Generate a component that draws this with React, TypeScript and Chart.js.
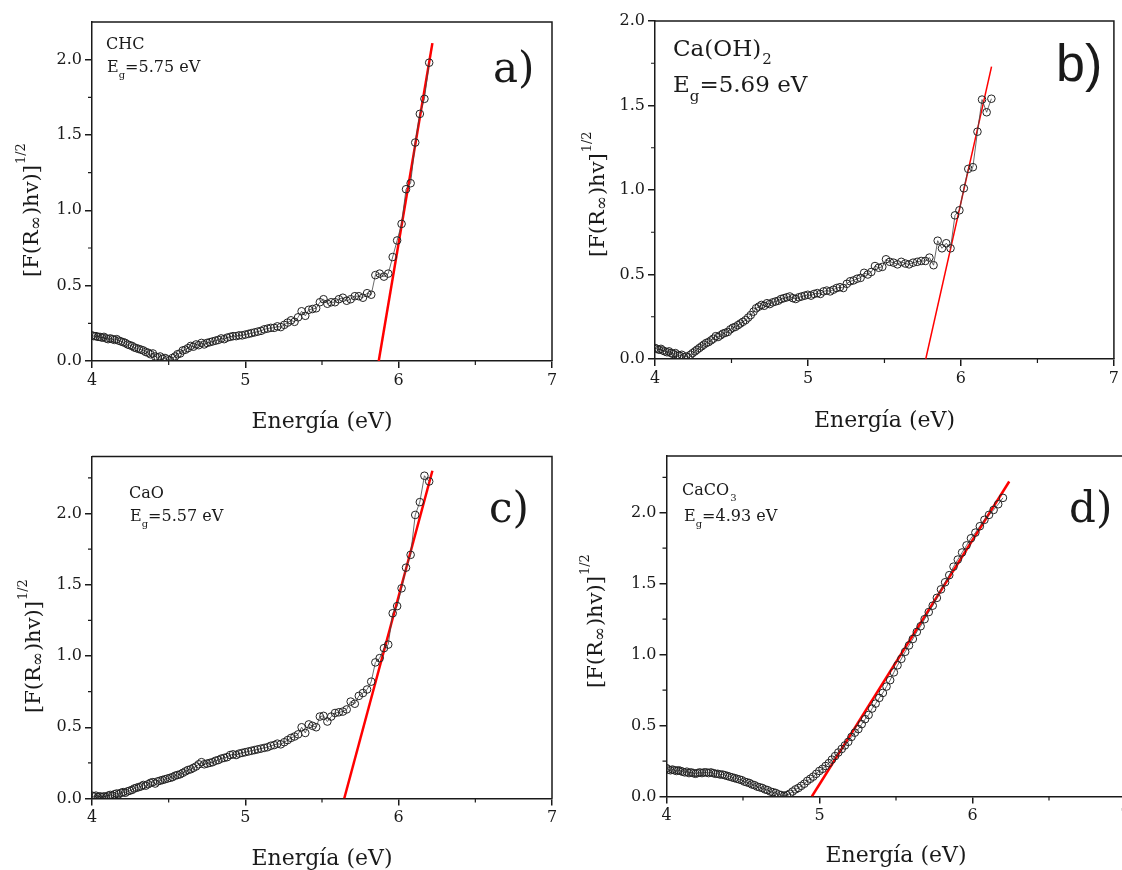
import React, { useEffect, useRef } from "react";
import { Chart, registerables } from "chart.js";

Chart.register(...registerables);

// ---------------- DATA ----------------
const energy = [
  4.000, 4.012, 4.026, 4.039, 4.052, 4.065, 4.078, 4.092, 4.105, 4.119,
  4.133, 4.147, 4.161, 4.175, 4.189, 4.203, 4.217, 4.232, 4.246, 4.261,
  4.275, 4.290, 4.305, 4.320, 4.335, 4.350, 4.366, 4.381, 4.397, 4.412,
  4.428, 4.444, 4.460, 4.476, 4.492, 4.509, 4.525, 4.542, 4.558, 4.575,
  4.592, 4.609, 4.626, 4.644, 4.661, 4.679, 4.696, 4.714, 4.732, 4.750,
  4.769, 4.787, 4.806, 4.824, 4.843, 4.862, 4.881, 4.901, 4.920, 4.940,
  4.959, 4.979, 4.999, 5.020, 5.040, 5.061, 5.081, 5.102, 5.123, 5.145,
  5.166, 5.188, 5.209, 5.231, 5.254, 5.276, 5.298, 5.321, 5.344, 5.367,
  5.391, 5.414, 5.438, 5.462, 5.486, 5.510, 5.535, 5.560, 5.585, 5.610,
  5.636, 5.661, 5.687, 5.714, 5.740, 5.767, 5.794, 5.821, 5.848, 5.876,
  5.904, 5.932, 5.961, 5.990, 6.019, 6.048, 6.078, 6.108, 6.138, 6.168, 6.199,
];

const valuesCHC = [
  0.17, 0.165, 0.165, 0.16, 0.16, 0.155, 0.16, 0.15, 0.145, 0.15,
  0.145, 0.14, 0.145, 0.135, 0.13, 0.125, 0.12, 0.11, 0.105, 0.10,
  0.09, 0.085, 0.08, 0.075, 0.07, 0.06, 0.055, 0.045, 0.05, 0.03,
  0.025, 0.03, 0.015, 0.02, 0.01, 0.005, 0.02, 0.03, 0.045, 0.05,
  0.07, 0.075, 0.085, 0.10, 0.095, 0.11, 0.105, 0.12, 0.11, 0.12,
  0.125, 0.13, 0.135, 0.14, 0.15, 0.145, 0.155, 0.16, 0.165, 0.165,
  0.17, 0.17, 0.175, 0.18, 0.185, 0.19, 0.195, 0.20, 0.21, 0.215,
  0.22, 0.22, 0.23, 0.225, 0.24, 0.255, 0.27, 0.26, 0.29, 0.33,
  0.30, 0.34, 0.345, 0.35, 0.39, 0.41, 0.38, 0.39, 0.39, 0.41,
  0.42, 0.40, 0.41, 0.43, 0.43, 0.42, 0.45, 0.44, 0.57, 0.58,
  0.56, 0.58, 0.69, 0.80, 0.91, 1.14, 1.18, 1.45, 1.64, 1.74, 1.98,
];

const valuesCaOH2 = [
  0.065, 0.06, 0.055, 0.06, 0.05, 0.045, 0.04, 0.045, 0.035, 0.03,
  0.035, 0.025, 0.02, 0.025, 0.01, 0.015, 0.01, 0.025, 0.035, 0.045,
  0.055, 0.065, 0.075, 0.085, 0.095, 0.10, 0.11, 0.12, 0.135, 0.13,
  0.14, 0.15, 0.155, 0.16, 0.175, 0.185, 0.19, 0.20, 0.21, 0.22,
  0.23, 0.245, 0.26, 0.28, 0.30, 0.31, 0.32, 0.315, 0.33, 0.325,
  0.335, 0.34, 0.345, 0.355, 0.36, 0.365, 0.37, 0.36, 0.355, 0.365,
  0.37, 0.375, 0.38, 0.375, 0.385, 0.39, 0.385, 0.40, 0.405, 0.40,
  0.41, 0.42, 0.425, 0.42, 0.445, 0.46, 0.465, 0.475, 0.48, 0.51,
  0.50, 0.515, 0.55, 0.54, 0.545, 0.59, 0.575, 0.57, 0.56, 0.575,
  0.565, 0.56, 0.57, 0.575, 0.58, 0.58, 0.60, 0.555, 0.70, 0.655,
  0.685, 0.655, 0.85, 0.88, 1.01, 1.125, 1.135, 1.345, 1.535, 1.46, 1.54,
];

const valuesCaO = [
  0.02, 0.015, 0.02, 0.01, 0.015, 0.01, 0.015, 0.01, 0.02, 0.025,
  0.02, 0.03, 0.035, 0.03, 0.04, 0.045, 0.04, 0.05, 0.055, 0.06,
  0.07, 0.075, 0.08, 0.085, 0.095, 0.09, 0.10, 0.11, 0.115, 0.105,
  0.12, 0.125, 0.13, 0.135, 0.14, 0.145, 0.15, 0.16, 0.165, 0.17,
  0.18, 0.19, 0.20, 0.205, 0.215, 0.225, 0.24, 0.255, 0.24, 0.245,
  0.25, 0.255, 0.265, 0.27, 0.28, 0.285, 0.29, 0.305, 0.31, 0.305,
  0.315, 0.32, 0.325, 0.33, 0.335, 0.34, 0.345, 0.35, 0.355, 0.36,
  0.37, 0.375, 0.385, 0.38, 0.395, 0.41, 0.425, 0.435, 0.45, 0.50,
  0.46, 0.52, 0.51, 0.50, 0.575, 0.58, 0.54, 0.575, 0.60, 0.605,
  0.61, 0.625, 0.68, 0.665, 0.72, 0.74, 0.765, 0.82, 0.955, 0.985,
  1.055, 1.08, 1.30, 1.35, 1.475, 1.62, 1.71, 1.99, 2.08, 2.265, 2.225,
];

const valuesCaCO3 = [
  0.20, 0.19, 0.185, 0.19, 0.185, 0.18, 0.185, 0.18, 0.175, 0.17,
  0.175, 0.165, 0.17, 0.165, 0.16, 0.165, 0.17, 0.165, 0.17, 0.17,
  0.165, 0.17, 0.165, 0.16, 0.16, 0.155, 0.155, 0.15, 0.145, 0.14,
  0.135, 0.13, 0.125, 0.12, 0.115, 0.105, 0.10, 0.095, 0.085, 0.08,
  0.07, 0.065, 0.06, 0.05, 0.045, 0.035, 0.03, 0.025, 0.015, 0.01,
  0.005, 0.01, 0.02, 0.035, 0.05, 0.06, 0.075, 0.09, 0.11, 0.125,
  0.14, 0.16, 0.18, 0.195, 0.215, 0.235, 0.26, 0.285, 0.31, 0.335,
  0.36, 0.385, 0.42, 0.45, 0.475, 0.51, 0.545, 0.575, 0.62, 0.655,
  0.695, 0.73, 0.775, 0.82, 0.875, 0.925, 0.97, 1.02, 1.065, 1.11,
  1.16, 1.20, 1.25, 1.30, 1.345, 1.40, 1.46, 1.51, 1.56, 1.62,
  1.67, 1.72, 1.77, 1.82, 1.86, 1.905, 1.95, 1.985, 2.02, 2.06, 2.105,
];

// linear fits (end points)
const fitCHC_x = [5.87, 6.22];
const fitCHC_y = [0, 2.11];
const fitCaOH2_x = [5.77, 6.2];
const fitCaOH2_y = [0, 1.73];
const fitCaO_x = [5.645, 6.22];
const fitCaO_y = [0, 2.3];
const fitCaCO3_x = [4.95, 6.24];
const fitCaCO3_y = [0, 2.22];

// ticks
const xTicks = [4, 5, 6, 7];
const xTickLabels = ["4", "5", "6", "7"];
const xMinorTicks = [4.5, 5.5, 6.5];
const yTicks = [0, 0.5, 1.0, 1.5, 2.0];
const yTickLabels = ["0.0", "0.5", "1.0", "1.5", "2.0"];
const yMinorTicks = [0.25, 0.75, 1.25, 1.75, 2.25];

const gapLabels = ["5.75", "5.69", "5.57", "4.93"];

// ---------------- STYLE / LAYOUT ----------------
const SERIF = "'DejaVu Serif', serif";
const SANS = "'Liberation Sans', Arial, sans-serif";
const INK = "#1a1a1a";

type PanelSpec = {
  key: string;
  box: { left: number; top: number; w: number; h: number };
  area: { l: number; t: number; r: number; b: number };
  xMax: number;
  yMax: number;
  values: number[];
  fitX: number[];
  fitY: number[];
  fitWidth: number;
  yTitleClose: string;
  yTitle: { baseX: number; startY: number };
  xTitleBase: number;
  label: { text: string; font: string; x: number; y: number };
  name: { parts: string[]; x: number; y: number; size: number };
  gap: { text: string; x: number; y: number; size: number };
};

const panels: PanelSpec[] = [
  {
    key: "a",
    box: { left: 0, top: 0, w: 561, h: 440 },
    area: { l: 92, t: 22, r: 552, b: 361 },
    xMax: 7,
    yMax: 2.25,
    values: valuesCHC,
    fitX: fitCHC_x,
    fitY: fitCHC_y,
    fitWidth: 2.5,
    yTitleClose: ")hv)]",
    yTitle: { baseX: 38, startY: 277 },
    xTitleBase: 428,
    label: { text: "a)", font: `42px ${SERIF}`, x: 493, y: 82 },
    name: { parts: ["CHC", ""], x: 106, y: 49, size: 16 },
    gap: { text: gapLabels[0], x: 107, y: 72, size: 16 },
  },
  {
    key: "b",
    box: { left: 561, top: 0, w: 561, h: 440 },
    area: { l: 655, t: 21, r: 1114, b: 359 },
    xMax: 7,
    yMax: 2.0,
    values: valuesCaOH2,
    fitX: fitCaOH2_x,
    fitY: fitCaOH2_y,
    fitWidth: 1.5,
    yTitleClose: ")hv]",
    yTitle: { baseX: 604, startY: 257 },
    xTitleBase: 427,
    label: { text: "b)", font: `52px ${SANS}`, x: 1056, y: 81 },
    name: { parts: ["Ca(OH)", "2"], x: 673, y: 56, size: 23 },
    gap: { text: gapLabels[1], x: 673, y: 92, size: 23 },
  },
  {
    key: "c",
    box: { left: 0, top: 440, w: 561, h: 430 },
    area: { l: 92, t: 456.5, r: 552, b: 798.5 },
    xMax: 7,
    yMax: 2.4,
    values: valuesCaO,
    fitX: fitCaO_x,
    fitY: fitCaO_y,
    fitWidth: 2.5,
    yTitleClose: ")hv)]",
    yTitle: { baseX: 40, startY: 713 },
    xTitleBase: 865,
    label: { text: "c)", font: `42px ${SERIF}`, x: 489, y: 522 },
    name: { parts: ["CaO", ""], x: 129, y: 498, size: 16 },
    gap: { text: gapLabels[2], x: 130, y: 521, size: 16 },
  },
  {
    key: "d",
    box: { left: 561, top: 440, w: 620, h: 430 },
    area: { l: 666.5, t: 456, r: 1163.75, b: 796.5 },
    xMax: 7.25,
    yMax: 2.4,
    values: valuesCaCO3,
    fitX: fitCaCO3_x,
    fitY: fitCaCO3_y,
    fitWidth: 2.5,
    yTitleClose: ")hv)]",
    yTitle: { baseX: 602, startY: 688 },
    xTitleBase: 862,
    label: { text: "d)", font: `42px ${SERIF}`, x: 1069, y: 522 },
    name: { parts: ["CaCO", "3"], x: 682, y: 495, size: 16 },
    gap: { text: gapLabels[3], x: 684, y: 521, size: 16 },
  },
];

function decorPlugin(p: PanelSpec) {
  return {
    id: "decor_" + p.key,
    afterDraw(chart: any) {
      const ctx: CanvasRenderingContext2D = chart.ctx;
      const a = chart.chartArea;
      const xs = chart.scales.x;
      const ys = chart.scales.y;
      const ox = p.box.left;
      const oy = p.box.top;
      ctx.save();
      // frame: top + right
      ctx.strokeStyle = INK;
      ctx.lineWidth = 1.5;
      ctx.beginPath();
      ctx.moveTo(a.left, a.top);
      ctx.lineTo(a.right, a.top);
      ctx.lineTo(a.right, a.bottom);
      ctx.stroke();
      // minor ticks (outward)
      ctx.lineWidth = 1.2;
      ctx.beginPath();
      yMinorTicks.forEach((v) => {
        if (v >= p.yMax) return;
        const y = ys.getPixelForValue(v);
        ctx.moveTo(a.left - 4, y);
        ctx.lineTo(a.left, y);
      });
      xMinorTicks.forEach((v) => {
        const x = xs.getPixelForValue(v);
        ctx.moveTo(x, a.bottom);
        ctx.lineTo(x, a.bottom + 4);
      });
      ctx.stroke();

      ctx.fillStyle = INK;
      ctx.textAlign = "left";
      ctx.textBaseline = "alphabetic";

      // y axis title (rotated)
      ctx.save();
      ctx.translate(p.yTitle.baseX - ox, p.yTitle.startY - oy);
      ctx.rotate(-Math.PI / 2);
      let cx = 0;
      ctx.font = `21px ${SERIF}`;
      ctx.fillText("[F(R", cx, 0);
      cx += ctx.measureText("[F(R").width;
      ctx.font = `17px ${SERIF}`;
      ctx.fillText("\u221E", cx, 3);
      cx += ctx.measureText("\u221E").width + 1;
      ctx.font = `21px ${SERIF}`;
      ctx.fillText(p.yTitleClose, cx, 0);
      cx += ctx.measureText(p.yTitleClose).width;
      ctx.font = `13px ${SERIF}`;
      ctx.fillText("1/2", cx + 1, -13);
      ctx.restore();

      // x axis title
      ctx.font = `22px ${SERIF}`;
      ctx.textAlign = "center";
      ctx.fillText("Energía (eV)", xs.getPixelForValue(5.5), p.xTitleBase - oy);
      ctx.textAlign = "left";

      // panel label
      ctx.font = p.label.font;
      ctx.fillText(p.label.text, p.label.x - ox, p.label.y - oy);

      // sample name with optional subscript
      const ns = p.name.size;
      ctx.font = `${ns}px ${SERIF}`;
      ctx.fillText(p.name.parts[0], p.name.x - ox, p.name.y - oy);
      if (p.name.parts[1]) {
        const w0 = ctx.measureText(p.name.parts[0]).width;
        ctx.font = `${Math.round(ns * 0.65)}px ${SERIF}`;
        ctx.fillText(p.name.parts[1], p.name.x - ox + w0 + 1, p.name.y - oy + ns * 0.35);
      }

      // band gap: E_g=... eV
      const gs = p.gap.size;
      let gx = p.gap.x - ox;
      const gy = p.gap.y - oy;
      ctx.font = `${gs}px ${SERIF}`;
      ctx.fillText("E", gx, gy);
      gx += ctx.measureText("E").width;
      ctx.font = `${Math.round(gs * 0.65)}px ${SERIF}`;
      ctx.fillText("g", gx, gy + gs * 0.38);
      gx += ctx.measureText("g").width;
      ctx.font = `${gs}px ${SERIF}`;
      ctx.fillText("=" + p.gap.text + " eV", gx, gy);

      ctx.restore();
    },
  };
}

function makeConfig(p: PanelSpec): any {
  const tickFont = { family: SERIF, size: 16 };
  const yAxisWidth = p.area.l - p.box.left;
  const xAxisHeight = p.box.top + p.box.h - p.area.b;
  return {
    type: "scatter",
    data: {
      datasets: [
        {
          data: energy.map((x, i) => ({ x, y: p.values[i] })),
          showLine: true,
          borderColor: "#444",
          borderWidth: 0.8,
          pointRadius: 3.8,
          pointBorderColor: "#222",
          pointBorderWidth: 1,
          pointBackgroundColor: "rgba(255,255,255,0)",
        },
        {
          data: p.fitX.map((x, i) => ({ x, y: p.fitY[i] })),
          showLine: true,
          borderColor: "#ff0000",
          borderWidth: p.fitWidth,
          pointRadius: 0,
        },
      ],
    },
    options: {
      responsive: false,
      animation: false,
      devicePixelRatio: 1,
      layout: {
        padding: {
          left: 0,
          bottom: 0,
          top: p.area.t - p.box.top,
          right: p.box.left + p.box.w - p.area.r,
        },
      },
      plugins: { legend: { display: false }, tooltip: { enabled: false } },
      scales: {
        x: {
          type: "linear",
          min: 4,
          max: p.xMax,
          afterBuildTicks: (s: any) => {
            s.ticks = xTicks.map((v) => ({ value: v }));
          },
          afterFit: (s: any) => {
            s.height = xAxisHeight;
          },
          ticks: {
            callback: (v: number) => xTickLabels[xTicks.indexOf(v)],
            font: tickFont,
            color: INK,
            padding: 3,
            maxRotation: 0,
            autoSkip: false,
          },
          grid: { drawOnChartArea: false, tickLength: 7, color: INK, lineWidth: 1.5 },
          border: { color: INK, width: 1.5 },
        },
        y: {
          type: "linear",
          min: 0,
          max: p.yMax,
          afterBuildTicks: (s: any) => {
            s.ticks = yTicks.filter((v) => v <= p.yMax).map((v) => ({ value: v }));
          },
          afterFit: (s: any) => {
            s.width = yAxisWidth;
          },
          ticks: {
            callback: (v: number) => yTickLabels[yTicks.indexOf(v)],
            font: tickFont,
            color: INK,
            padding: 3,
            autoSkip: false,
          },
          grid: { drawOnChartArea: false, tickLength: 7, color: INK, lineWidth: 1.5 },
          border: { color: INK, width: 1.5 },
        },
      },
    },
    plugins: [decorPlugin(p)],
  };
}

function Panel({ p }: { p: PanelSpec }) {
  const ref = useRef<HTMLCanvasElement>(null);
  useEffect(() => {
    if (!ref.current) return;
    const chart = new Chart(ref.current, makeConfig(p));
    return () => chart.destroy();
  }, [p]);
  return (
    <canvas
      ref={ref}
      width={p.box.w}
      height={p.box.h}
      style={{ position: "absolute", left: p.box.left, top: p.box.top, width: p.box.w, height: p.box.h }}
    />
  );
}

export default function App() {
  return (
    <div
      style={{
        position: "fixed",
        left: 0,
        top: 0,
        width: 1122,
        height: 870,
        overflow: "hidden",
        background: "#fff",
      }}
    >
      {panels.map((p) => (
        <Panel key={p.key} p={p} />
      ))}
    </div>
  );
}
